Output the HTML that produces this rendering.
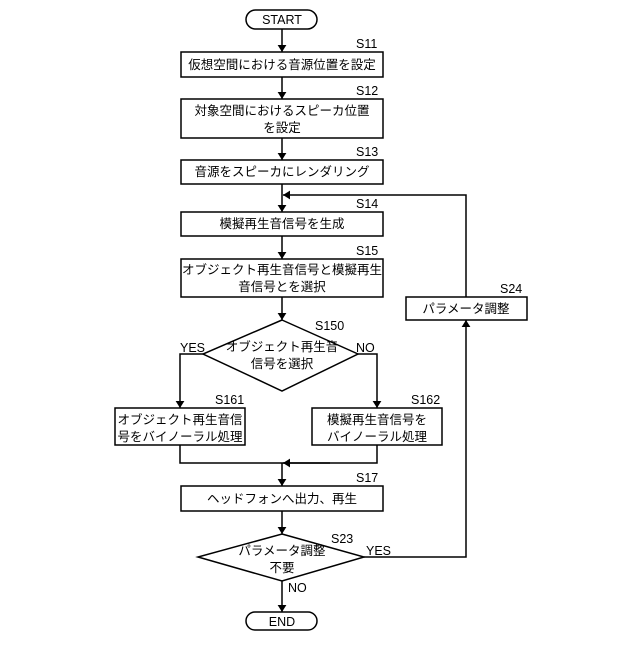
<!DOCTYPE html>
<html><head><meta charset="utf-8"><style>
html,body{margin:0;padding:0;background:#fff;}
svg text{font-family:"Liberation Sans","Noto Sans CJK JP",sans-serif;font-size:12.5px;fill:#000;}
</style></head><body>
<svg width="640" height="640" viewBox="0 0 640 640" xmlns="http://www.w3.org/2000/svg">
<defs><marker id="a" markerWidth="8" markerHeight="10" refX="4" refY="9" orient="auto" markerUnits="userSpaceOnUse"><path d="M0,0 L8,0 L4,10 Z" fill="#000" transform="rotate(-90 4 5) translate(0 0)"/></marker>
<marker id="d" viewBox="0 0 8 10" markerWidth="7" markerHeight="9" refX="8" refY="5" orient="auto" markerUnits="userSpaceOnUse"><path d="M0,0 L8,5 L0,10 Z" fill="#000"/></marker></defs>
<g stroke="#000" stroke-width="1.5" fill="none">
<rect x="246" y="10" width="71" height="19" rx="9.5"/>
<rect x="181" y="52" width="202" height="25"/>
<rect x="181" y="99" width="202" height="39"/>
<rect x="181" y="160" width="202" height="24"/>
<rect x="181" y="212" width="202" height="24"/>
<rect x="181" y="259" width="202" height="38"/>
<polygon points="282,320 358,354 282,391 203,354"/>
<rect x="115" y="408" width="130" height="37"/>
<rect x="312" y="408" width="130" height="37"/>
<rect x="181" y="486" width="202" height="25"/>
<polygon points="282,534 364,557 282,581 198,557"/>
<rect x="246" y="612" width="71" height="18" rx="9"/>
<rect x="406" y="297" width="121" height="23"/>
<line x1="282" y1="29" x2="282" y2="52" marker-end="url(#d)"/>
<line x1="282" y1="77" x2="282" y2="99" marker-end="url(#d)"/>
<line x1="282" y1="138" x2="282" y2="160" marker-end="url(#d)"/>
<line x1="282" y1="184" x2="282" y2="212" marker-end="url(#d)"/>
<line x1="282" y1="236" x2="282" y2="259" marker-end="url(#d)"/>
<line x1="282" y1="297" x2="282" y2="320" marker-end="url(#d)"/>
<polyline points="203,354 180,354 180,408" marker-end="url(#d)"/>
<polyline points="358,354 377,354 377,408" marker-end="url(#d)"/>
<polyline points="180,445 180,463 377,463 377,445"/>
<line x1="330" y1="463" x2="283" y2="463" marker-end="url(#d)"/>
<line x1="282" y1="463" x2="282" y2="486" marker-end="url(#d)"/>
<line x1="282" y1="511" x2="282" y2="534" marker-end="url(#d)"/>
<polyline points="364,557 466,557 466,320" marker-end="url(#d)"/>
<polyline points="466,297 466,195 283,195" marker-end="url(#d)"/>
<line x1="282" y1="581" x2="282" y2="612" marker-end="url(#d)"/>
</g>
<g text-anchor="middle">
<text x="282" y="24">START</text>
<text x="282" y="69">仮想空間における音源位置を設定</text>
<text x="282" y="115">対象空間におけるスピーカ位置</text>
<text x="282" y="132">を設定</text>
<text x="282" y="176">音源をスピーカにレンダリング</text>
<text x="282" y="228">模擬再生音信号を生成</text>
<text x="282" y="274">オブジェクト再生音信号と模擬再生</text>
<text x="282" y="291">音信号とを選択</text>
<text x="282" y="351">オブジェクト再生音</text>
<text x="282" y="368">信号を選択</text>
<text x="180" y="424">オブジェクト再生音信</text>
<text x="180" y="441">号をバイノーラル処理</text>
<text x="377" y="424">模擬再生音信号を</text>
<text x="377" y="441">バイノーラル処理</text>
<text x="282" y="503">ヘッドフォンへ出力、再生</text>
<text x="282" y="555">パラメータ調整</text>
<text x="282" y="572">不要</text>
<text x="282" y="626">END</text>
<text x="466" y="313">パラメータ調整</text>
</g>
<g>
<text x="356" y="48">S11</text>
<text x="356" y="95">S12</text>
<text x="356" y="156">S13</text>
<text x="356" y="208">S14</text>
<text x="356" y="255">S15</text>
<text x="315" y="330">S150</text>
<text x="180" y="352">YES</text>
<text x="356" y="352">NO</text>
<text x="215" y="404">S161</text>
<text x="411" y="404">S162</text>
<text x="356" y="482">S17</text>
<text x="331" y="543">S23</text>
<text x="366" y="555">YES</text>
<text x="288" y="592">NO</text>
<text x="500" y="293">S24</text>
</g>
</svg>
</body></html>
